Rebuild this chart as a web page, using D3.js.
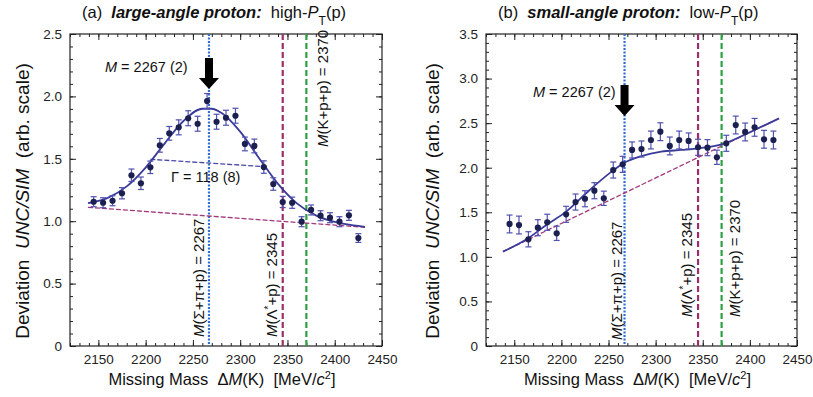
<!DOCTYPE html>
<html>
<head>
<meta charset="utf-8">
<script src="https://cdn.jsdelivr.net/npm/d3@7"></script>
<style>
  body { margin: 0; background: #fff; }
  svg { font-family: "Liberation Sans", Arial, sans-serif; }
</style>
</head>
<body>
<svg id="chart" width="813" height="397"></svg>
<script>
// Missing-mass bins (MeV/c^2), same for both panels
var massBins = [2145, 2155, 2165, 2175, 2185, 2195, 2205, 2215, 2225, 2235,
  2245, 2255, 2265, 2275, 2285, 2295, 2305, 2315, 2325, 2335,
  2345, 2355, 2365, 2375, 2385, 2395, 2405, 2415, 2425];

// (a) large-angle proton, high-PT
var devHigh = [1.156, 1.148, 1.164, 1.224, 1.368, 1.304, 1.432, 1.608, 1.704, 1.752,
  1.825, 1.781, 1.963, 1.797, 1.829, 1.845, 1.619, 1.603, 1.434, 1.298,
  1.154, 1.148, 0.996, 1.090, 1.044, 1.028, 0.996, 1.047, 0.865];
var errHigh = [0.04, 0.04, 0.04, 0.045, 0.05, 0.05, 0.05, 0.055, 0.055, 0.06,
  0.06, 0.06, 0.06, 0.06, 0.06, 0.06, 0.055, 0.055, 0.05, 0.05,
  0.045, 0.045, 0.04, 0.04, 0.04, 0.04, 0.04, 0.04, 0.035];
var fitHighMass = [2139, 2160, 2180, 2200, 2220, 2240, 2260, 2270, 2280, 2300, 2320, 2340, 2360, 2380, 2400, 2420, 2432];
var fitHighVal = [1.144, 1.187, 1.279, 1.430, 1.622, 1.803, 1.901, 1.901, 1.869, 1.718, 1.505, 1.299, 1.143, 1.047, 0.994, 0.966, 0.955];
var bgHighMass = [2139, 2432];
var bgHighVal = [1.111, 0.951];
var halfHighMass = [2205, 2326];
var halfHighVal = [1.496, 1.437];

// (b) small-angle proton, low-PT
var devLow = [1.369, 1.357, 1.197, 1.327, 1.388, 1.264, 1.477, 1.615, 1.652, 1.742,
  1.657, 1.974, 2.038, 2.199, 2.210, 2.311, 2.404, 2.244, 2.311, 2.300,
  2.229, 2.225, 2.117, 2.274, 2.479, 2.401, 2.453, 2.319, 2.311];
var errLow = [0.1, 0.1, 0.085, 0.09, 0.09, 0.08, 0.09, 0.09, 0.09, 0.09,
  0.08, 0.09, 0.09, 0.09, 0.09, 0.1, 0.1, 0.1, 0.1, 0.09,
  0.09, 0.09, 0.08, 0.09, 0.1, 0.1, 0.1, 0.1, 0.1];
var fitLowMass = [2138, 2163, 2184, 2205, 2230, 2255, 2266, 2285, 2306, 2327, 2346, 2371, 2400, 2431];
var fitLowVal = [1.058, 1.197, 1.357, 1.507, 1.75, 1.97, 2.05, 2.13, 2.18, 2.199, 2.218, 2.265, 2.398, 2.554];
var bgLowMass = [2138, 2431];
var bgLowVal = [1.058, 2.554];

// marker lines
var markMass = [2267, 2345, 2370];

var svg = d3.select("#chart");

function drawPanel(cfg) {
  var g = svg.append("g").attr("transform", `translate(${cfg.left}, 34)`);
  var width = cfg.width, height = 312;

  var x = d3.scaleLinear().domain([2120, 2450]).range([0, width]);
  var y = d3.scaleLinear().domain([0, cfg.yMax]).range([height, 0]);

  // minor ticks
  var xMinor = d3.range(2120, 2451, 10);
  var yMinor = d3.range(0, cfg.yMax + 0.001, 0.1);
  var xMajor = d3.range(2150, 2451, 50);
  var yMajor = d3.range(0, cfg.yMax + 0.001, 0.5);

  function addAxis(axis, tr) {
    var a = g.append("g").attr("transform", tr).call(axis);
    a.select(".domain").remove();
    a.selectAll("line").attr("stroke", "#222");
    a.selectAll("text").attr("font-size", "13.5px").attr("fill", "#222")
      .attr("font-family", '"Liberation Sans", Arial, sans-serif');
    return a;
  }
  addAxis(d3.axisBottom(x).tickValues(xMinor).tickSize(-3).tickFormat(""), `translate(0,${height})`);
  addAxis(d3.axisTop(x).tickValues(xMinor).tickSize(-3).tickFormat(""), "translate(0,0)");
  addAxis(d3.axisLeft(y).tickValues(yMinor).tickSize(-3).tickFormat(""), "translate(0,0)");
  addAxis(d3.axisRight(y).tickValues(yMinor).tickSize(-3).tickFormat(""), `translate(${width},0)`);
  addAxis(d3.axisBottom(x).tickValues(xMajor).tickSize(-6).tickPadding(8)
    .tickFormat(d3.format("d")), `translate(0,${height})`);
  addAxis(d3.axisTop(x).tickValues(xMajor).tickSize(-6).tickFormat(""), "translate(0,0)");
  addAxis(d3.axisLeft(y).tickValues(yMajor).tickSize(-6).tickPadding(8)
    .tickFormat(d => d === 0 ? "0" : d3.format(".1f")(d)), "translate(0,0)");
  addAxis(d3.axisRight(y).tickValues(yMajor).tickSize(-6).tickFormat(""), `translate(${width},0)`);

  g.append("rect").attr("width", width).attr("height", height)
    .attr("fill", "none").attr("stroke", "#222").attr("stroke-width", 1.2);

  // vertical marker lines
  var markStyle = [
    { color: "#2f6fd0", dash: "2,1.5", w: 2.2 },
    { color: "#9c2f6a", dash: "6,3", w: 2.2 },
    { color: "#2ea043", dash: "6,3", w: 2.2 }
  ];
  markMass.forEach(function(m, i) {
    g.append("line")
      .attr("x1", x(m)).attr("x2", x(m)).attr("y1", 0).attr("y2", height)
      .attr("stroke", markStyle[i].color)
      .attr("stroke-dasharray", markStyle[i].dash)
      .attr("stroke-width", markStyle[i].w);
  });

  var line = d3.line().x(d => x(d[0])).y(d => y(d[1]));

  // background line
  g.append("path").datum(d3.zip(cfg.bgMass, cfg.bgVal))
    .attr("d", line).attr("fill", "none")
    .attr("stroke", "#a0387a").attr("stroke-width", 1.3).attr("stroke-dasharray", "5,2");

  // half-maximum line
  if (cfg.halfMass) {
    g.append("path").datum(d3.zip(cfg.halfMass, cfg.halfVal))
      .attr("d", line).attr("fill", "none")
      .attr("stroke", "#4848a8").attr("stroke-width", 1.3).attr("stroke-dasharray", "5,2");
  }

  // fit curve
  g.append("path").datum(d3.zip(cfg.fitMass, cfg.fitVal))
    .attr("d", line.curve(d3.curveMonotoneX)).attr("fill", "none")
    .attr("stroke", "#3a3a9a").attr("stroke-width", 1.8);

  // error bars
  var pts = massBins.map((m, i) => ({ m: m, v: cfg.dev[i], e: cfg.err[i] }));
  var eb = g.append("g").attr("stroke", "#5050b0").attr("stroke-width", 1.2);
  pts.forEach(function(d) {
    var cx = x(d.m), y0 = y(d.v - d.e), y1 = y(d.v + d.e);
    eb.append("line").attr("x1", cx).attr("x2", cx).attr("y1", y0).attr("y2", y1);
    eb.append("line").attr("x1", cx - 3).attr("x2", cx + 3).attr("y1", y0).attr("y2", y0);
    eb.append("line").attr("x1", cx - 3).attr("x2", cx + 3).attr("y1", y1).attr("y2", y1);
  });

  g.selectAll(".pt").data(pts).enter().append("circle")
    .attr("class", "pt")
    .attr("cx", d => x(d.m)).attr("cy", d => y(d.v))
    .attr("r", 3.1).attr("fill", "#1c2050");

  // arrow at M = 2267
  var ax = x(2267);
  var ay0 = cfg.arrowTop, ay1 = cfg.arrowTop + 31;
  g.append("path")
    .attr("d", `M${ax - 4},${ay0} L${ax + 4},${ay0} L${ax + 4},${ay1 - 11} L${ax + 10},${ay1 - 11} L${ax},${ay1} L${ax - 10},${ay1 - 11} L${ax - 4},${ay1 - 11} Z`)
    .attr("fill", "#000");

  var mt = g.append("text").attr("x", cfg.mTextX).attr("y", cfg.mTextY)
    .attr("font-size", "14.5px").attr("fill", "#111");
  mt.append("tspan").attr("font-style", "italic").text("M");
  mt.append("tspan").text(" = 2267 (2)");

  if (cfg.gammaX) {
    g.append("text").attr("x", cfg.gammaX).attr("y", cfg.gammaY)
      .attr("font-size", "14.5px").attr("fill", "#111").text("\u0393 = 118 (8)");
  }

  // rotated mass labels
  function rotLabel(cx, yStart, parts) {
    var t = g.append("text")
      .attr("transform", `translate(${cx},${yStart}) rotate(-90)`)
      .attr("dy", "0.35em").attr("font-size", "15px").attr("fill", "#111");
    parts.forEach(function(p) {
      var s = t.append("tspan").text(p[0]);
      if (p[1] === "i") s.attr("font-style", "italic");
      if (p[1] === "sup") s.attr("baseline-shift", "super").attr("font-size", "10px");
    });
  }
  var L = cfg.labels;
  rotLabel(L[0][0], L[0][1], [["M", "i"], ["(\u03a3+\u03c0+p) = 2267"]]);
  rotLabel(L[1][0], L[1][1], [["M", "i"], ["(\u039b"], ["*", "sup"], ["+p) = 2345"]]);
  rotLabel(L[2][0], L[2][1], [["M", "i"], ["(K+p+p) = 2370"]]);

  // axis titles
  var xt = g.append("text").attr("x", width / 2 - 4).attr("y", height + 39)
    .attr("text-anchor", "middle").attr("font-size", "16.5px").attr("fill", "#111")
    .style("white-space", "pre");
  xt.append("tspan").text("Missing Mass  \u0394");
  xt.append("tspan").attr("font-style", "italic").text("M");
  xt.append("tspan").text("(K)  [MeV/");
  xt.append("tspan").attr("font-style", "italic").text("c");
  xt.append("tspan").attr("baseline-shift", "super").attr("font-size", "11px").text("2");
  xt.append("tspan").text("]");

  var yt = g.append("text")
    .attr("transform", `translate(${cfg.yTitleX},${height / 2 + 11}) rotate(-90)`)
    .attr("text-anchor", "middle").attr("font-size", "19px").attr("fill", "#111")
    .attr("dy", "0.35em").style("white-space", "pre");
  yt.append("tspan").text("Deviation  ");
  yt.append("tspan").attr("font-style", "italic").text("UNC/SIM");
  yt.append("tspan").text("  (arb. scale)");

  // panel title
  var tt = svg.append("text").attr("x", cfg.titleX).attr("y", 18)
    .attr("font-size", "16.5px").attr("fill", "#111").style("white-space", "pre");
  tt.append("tspan").text(cfg.tag + "  ");
  tt.append("tspan").attr("font-weight", "bold").attr("font-style", "italic").text(cfg.title);
  tt.append("tspan").text("  " + cfg.pt + "-");
  tt.append("tspan").attr("font-style", "italic").text("P");
  tt.append("tspan").attr("baseline-shift", "sub").attr("font-size", "12px").text("T");
  tt.append("tspan").text("(p)");
}

drawPanel({
  left: 70, width: 312, yMax: 2.5,
  dev: devHigh, err: errHigh,
  fitMass: fitHighMass, fitVal: fitHighVal,
  bgMass: bgHighMass, bgVal: bgHighVal,
  halfMass: halfHighMass, halfVal: halfHighVal,
  arrowTop: 24, mTextX: 35, mTextY: 38,
  gammaX: 101, gammaY: 148,
  labels: [[129, 303], [202, 303], [253, 113]],
  yTitleX: -48,
  titleX: 82, tag: "(a)", title: "large-angle proton:", pt: "high"
});

drawPanel({
  left: 486, width: 311, yMax: 3.5,
  dev: devLow, err: errLow,
  fitMass: fitLowMass, fitVal: fitLowVal,
  bgMass: bgLowMass, bgVal: bgLowVal,
  arrowTop: 51, mTextX: 47, mTextY: 63,
  labels: [[131, 306], [201, 283], [249, 283]],
  yTitleX: -54,
  titleX: 498, tag: "(b)", title: "small-angle proton:", pt: "low"
});
</script>
</body>
</html>
